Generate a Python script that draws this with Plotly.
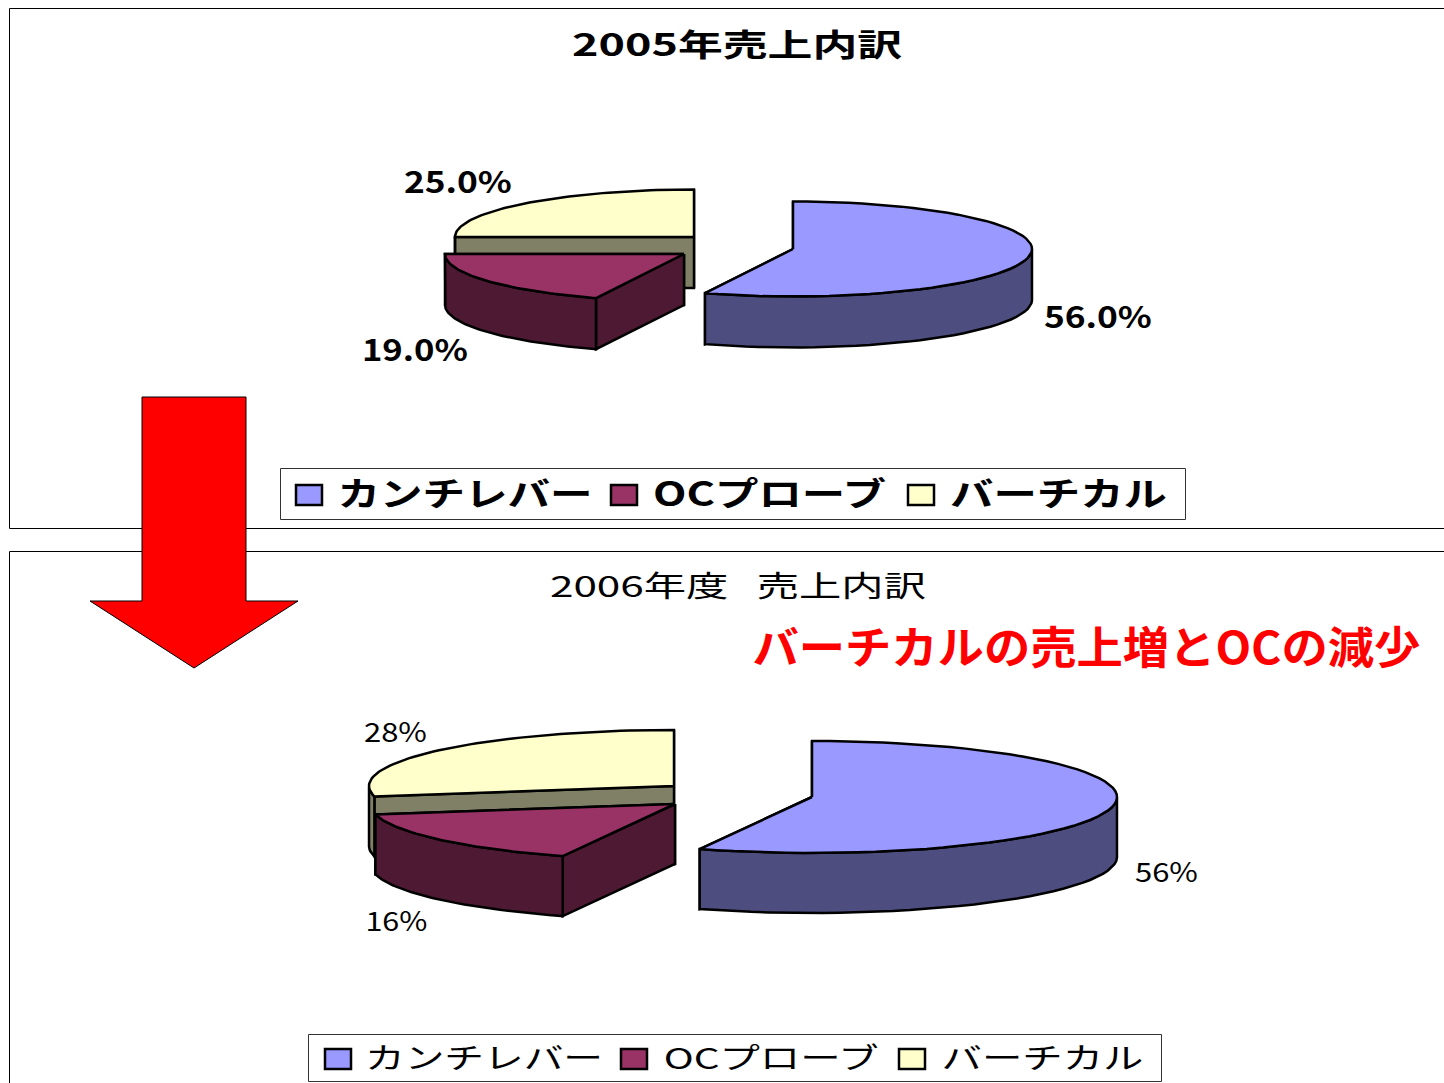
import math
import plotly.graph_objects as go

CATEGORIES = ["カンチレバー", "OCプローブ", "バーチカル"]
SHARES_2005 = [56.0, 19.0, 25.0]
SHARES_2006 = [56.0, 16.0, 28.0]
TITLE_2005 = "2005年売上内訳"
TITLE_2006 = "2006年度\u00a0\u00a0\u00a0売上内訳"
CALLOUT = "バーチカルの売上増とOCの減少"

TOP_COLORS = ["#9999FF", "#993366", "#FFFFCC"]
SIDE_COLORS = ["#4D4D80", "#4D1933", "#808066"]
FONT = "Noto Sans CJK JP"

# pie geometry (pixel-scaled axes): centre x, centre y per exploded slice, radii, depth
GEOM_2005 = dict(centers=[(793, 249), (684, 254), (694, 237)], rx=239, ry=47.5, depth=51)
GEOM_2006 = dict(centers=[(812, 797), (675, 804), (674, 786)], rx=305, ry=56, depth=60)


def pt(c, rx, ry, deg):
    t = math.radians(deg)
    return c[0] + rx * math.sin(t), c[1] - ry * math.cos(t)


def poly(points, fill, name):
    xs = [p[0] for p in points] + [points[0][0]]
    ys = [p[1] for p in points] + [points[0][1]]
    return go.Scatter(x=xs, y=ys, mode="lines", fill="toself", fillcolor=fill,
                      line=dict(color="black", width=2.5), hoverinfo="skip",
                      showlegend=False, name=name)


def pie_traces(shares, geom):
    traces = []
    start = 0.0
    rx, ry, d = geom["rx"], geom["ry"], geom["depth"]
    spans = []
    for v in shares:
        spans.append((start, start + v * 3.6))
        start += v * 3.6
    # paint far slices first
    for i in (2, 1, 0):
        a0, a1 = spans[i]
        c = geom["centers"][i]
        n = 60
        arc = [pt(c, rx, ry, a0 + (a1 - a0) * k / n) for k in range(n + 1)]
        name = CATEGORIES[i]
        down = lambda p: (p[0], p[1] + d)
        # cut faces
        traces.append(poly([c, arc[-1], down(arc[-1]), down(c)], SIDE_COLORS[i], name))
        traces.append(poly([c, arc[0], down(arc[0]), down(c)], SIDE_COLORS[i], name))
        # outer wall (only the part of the rim that faces the viewer)
        vis = [p for p, k in zip(arc, range(n + 1))
               if 90 <= a0 + (a1 - a0) * k / n <= 270]
        if vis:
            traces.append(poly(vis + [down(p) for p in reversed(vis)], SIDE_COLORS[i], name))
        traces.append(poly([c] + arc, TOP_COLORS[i], name))
    return traces


fig = go.Figure()
for t in pie_traces(SHARES_2005, GEOM_2005) + pie_traces(SHARES_2006, GEOM_2006):
    fig.add_trace(t)

# text: (string, centre x, centre y, size, bold, colour, target pixel width)
LABELS = [
    (TITLE_2005, 737, 42, 31, True, "black", 330),
    (f"{SHARES_2005[2]:.1f}%", 458, 180, 30, True, "black", 108),
    (f"{SHARES_2005[1]:.1f}%", 415, 348, 30, True, "black", 106),
    (f"{SHARES_2005[0]:.1f}%", 1098, 315, 30, True, "black", 108),
    (CATEGORIES[0], 464.5, 492, 33, True, "black", 255),
    (CATEGORIES[1], 769.5, 492, 33, True, "black", 233),
    (CATEGORIES[2], 1058.5, 492, 33, True, "black", 217),
    (TITLE_2006, 738, 584, 29, False, "black", 376),
    (CALLOUT, 1086, 645, 44, True, "#FF0000", 668),
    (f"{SHARES_2006[2]:.0f}%", 395.5, 730, 27, False, "black", 63),
    (f"{SHARES_2006[1]:.0f}%", 396, 919, 27, False, "black", 62),
    (f"{SHARES_2006[0]:.0f}%", 1166.5, 870, 27, False, "black", 63),
    (CATEGORIES[0], 484, 1056, 29, False, "black", 238),
    (CATEGORIES[1], 770.5, 1056, 29, False, "black", 215),
    (CATEGORIES[2], 1042, 1056, 29, False, "black", 202),
]
annotations = [dict(x=x, y=y, text=s, xref="x", yref="y", showarrow=False,
                    xanchor="center", yanchor="middle", borderpad=0,
                    font=dict(family=FONT, size=sz, color=col, weight=700 if b else 400))
               for s, x, y, sz, b, col, w in LABELS]

ln = dict(color="black", width=1)
shapes = [
    # chart frames, open on the right
    dict(type="path", path="M1444,8.5 L9.5,8.5 L9.5,528.5 L1444,528.5", line=ln, layer="below"),
    dict(type="path", path="M1444,551.5 L9.5,551.5 L9.5,1083", line=ln, layer="below"),
    # legend boxes
    dict(type="rect", x0=280.5, y0=468.5, x1=1185.5, y1=519.5, line=dict(color="#333333", width=1)),
    dict(type="rect", x0=308.5, y0=1034.5, x1=1161.5, y1=1081.5, line=dict(color="#333333", width=1)),
    # arrow
    dict(type="path", path="M142,397 L246,397 L246,601 L298,601 L194,668 L90,601 L142,601 Z",
         fillcolor="#FF0000", line=dict(color="black", width=1)),
]
SWATCHES_TOP = [296, 611, 908]
SWATCHES_BOTTOM = [325, 621, 899]
for x0, col in zip(SWATCHES_TOP, TOP_COLORS):
    shapes.append(dict(type="rect", x0=x0, x1=x0 + 26, y0=485, y1=505, fillcolor=col,
                       line=dict(color="black", width=2.5)))
for x0, col in zip(SWATCHES_BOTTOM, TOP_COLORS):
    shapes.append(dict(type="rect", x0=x0, x1=x0 + 26, y0=1049, y1=1069, fillcolor=col,
                       line=dict(color="black", width=2.5)))

fig.update_layout(
    width=1444, height=1083, margin=dict(l=0, r=0, t=0, b=0),
    paper_bgcolor="white", plot_bgcolor="white", showlegend=False,
    xaxis=dict(range=[0, 1444], visible=False, fixedrange=True),
    yaxis=dict(range=[1083, 0], visible=False, fixedrange=True),
    annotations=annotations, shapes=shapes,
)

widths = [w for *_, w in LABELS]
post = """
document.body.style.margin = '0';
var W = %s;
document.querySelectorAll('.annotation-text').forEach(function (t, i) {
  t.setAttribute('textLength', W[i]);
  t.setAttribute('lengthAdjust', 'spacingAndGlyphs');
});
""" % widths
fig.write_html("out.html", post_script=post, config=dict(displayModeBar=False))
